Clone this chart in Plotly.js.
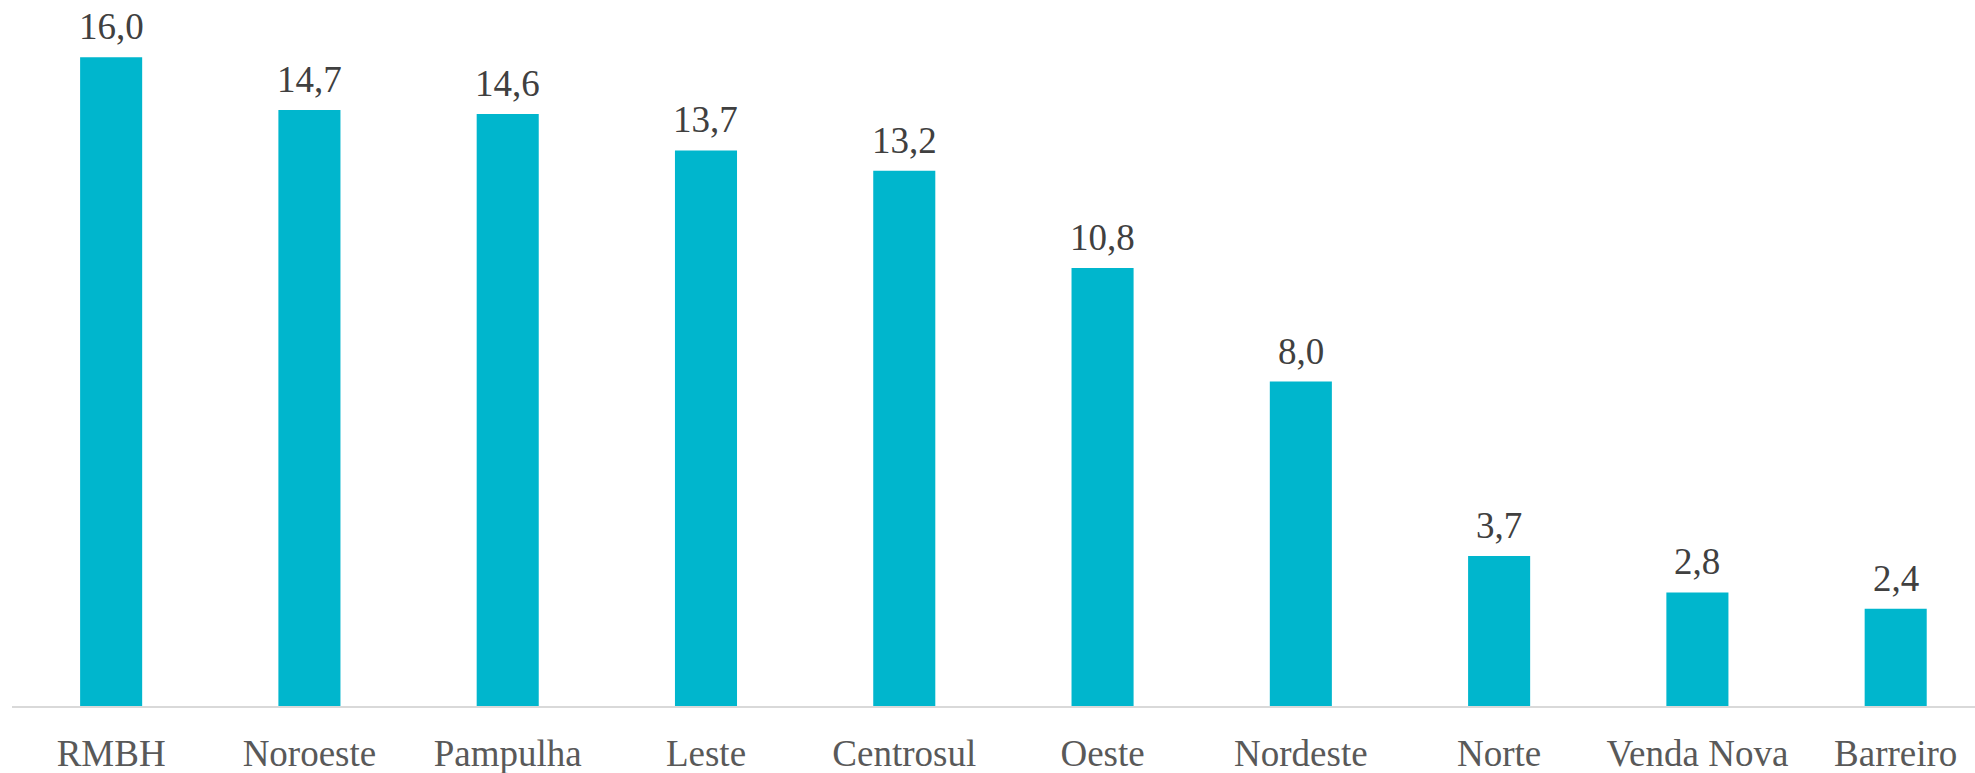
<!DOCTYPE html>
<html>
<head>
<meta charset="utf-8">
<script src="https://cdn.plot.ly/plotly-3.0.1.min.js"></script>
<style>
html,body{margin:0;padding:0;background:#fff;}
#chart{width:1975px;height:773px;}
</style>
</head>
<body>
<div id="chart"></div>
<script>
const categories = ["RMBH", "Noroeste", "Pampulha", "Leste", "Centrosul", "Oeste", "Nordeste", "Norte", "Venda Nova", "Barreiro"];
const values = [16.0, 14.7, 14.6, 13.7, 13.2, 10.8, 8.0, 3.7, 2.8, 2.4];
const valueLabels = values.map(v => v.toFixed(1).replace('.', ','));

const barColor = '#00B6CD';
const fontFamily = '"Liberation Serif", "Times New Roman", serif';

const trace = {
  type: 'bar',
  x: categories,
  y: values,
  width: 0.313,
  marker: {color: barColor, line: {width: 0}},
  hoverinfo: 'skip'
};

const annotations = categories.map((c, i) => ({
  x: c, y: values[i], xref: 'x', yref: 'y',
  text: valueLabels[i], showarrow: false,
  yanchor: 'bottom', yshift: 8,
  font: {family: fontFamily, size: 37, color: '#404040'}
}));

const layout = {
  width: 1975, height: 773,
  margin: {l: 12, r: 0, t: 0, b: 67, pad: 0},
  paper_bgcolor: '#ffffff', plot_bgcolor: '#ffffff',
  showlegend: false,
  xaxis: {
    type: 'category',
    range: [-0.5, 9.40],
    showline: true, linecolor: '#d9d9d9', linewidth: 2,
    showgrid: false, zeroline: false, ticks: '',
    ticklabelstandoff: 14,
    tickfont: {family: fontFamily, size: 37, color: '#595959'},
    fixedrange: true
  },
  yaxis: {
    range: [0, 17.41],
    visible: false, showgrid: false, zeroline: false,
    fixedrange: true
  },
  annotations: annotations
};

Plotly.newPlot('chart', [trace], layout, {displayModeBar: false, staticPlot: true});
</script>
</body>
</html>
